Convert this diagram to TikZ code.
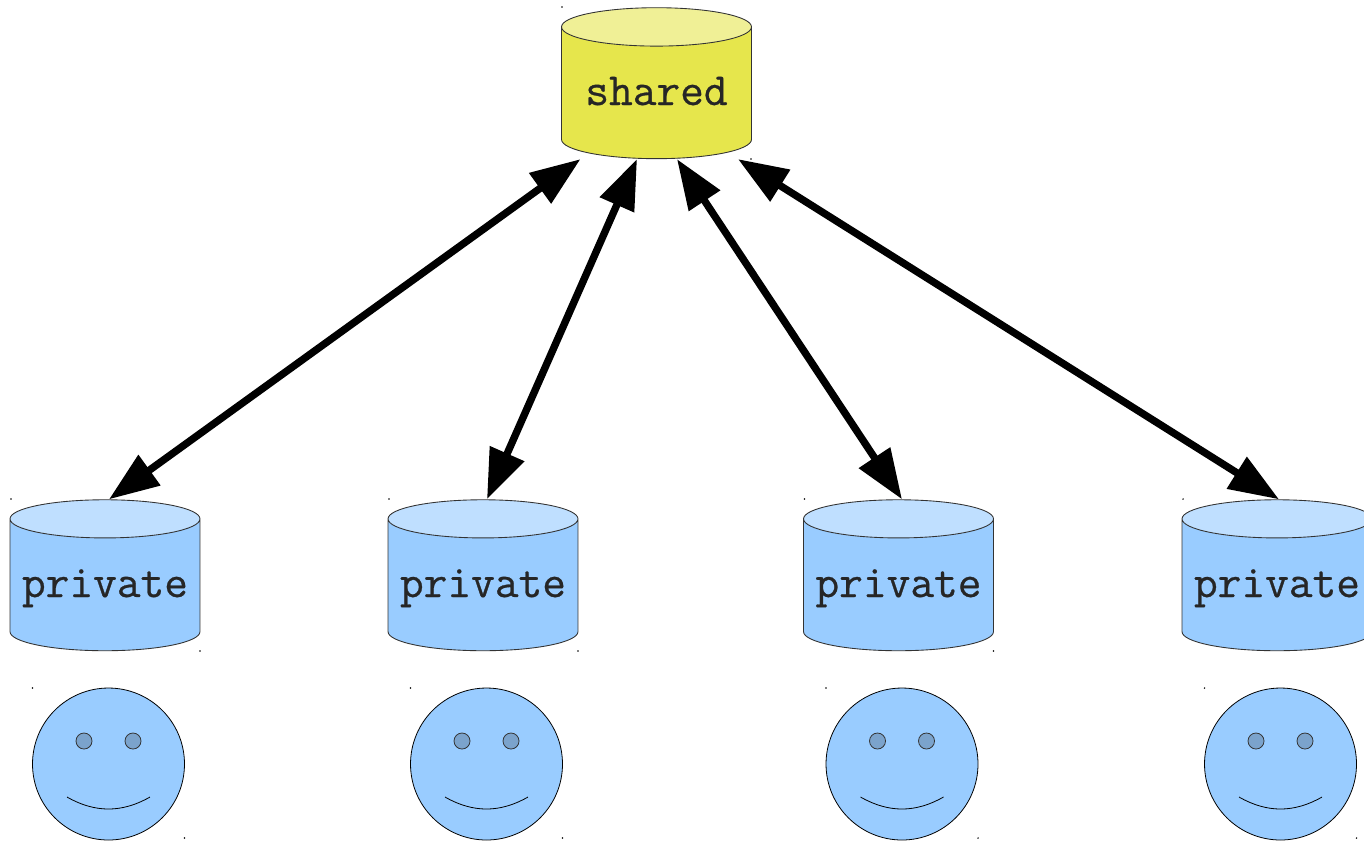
\documentclass[tikz,border=0pt]{standalone}
\usepackage{fontspec}
\newfontfamily\storefont[FakeBold=0.6]{Latin Modern Mono}
\usetikzlibrary{shapes.geometric,arrows.meta}
\definecolor{sharedbody}{HTML}{E6E64C}
\definecolor{sharedtop}{HTML}{F0F096}
\definecolor{privbody}{HTML}{99CCFF}
\definecolor{privtop}{HTML}{BFDFFF}
\definecolor{eyeblue}{HTML}{7BA3CC}
\tikzset{
  store/.style={cylinder, shape border rotate=90, draw=black!80, line width=.5pt,
    cylinder uses custom fill, minimum width=3.8cm, minimum height=3.02cm, inner sep=0pt,
    text height=.56cm, text depth=.08cm,
    font=\storefont\fontsize{26.2}{28}\selectfont, text=black!85},
  sharedstore/.style={store, aspect=0.27, cylinder body fill=sharedbody, cylinder end fill=sharedtop},
  privstore/.style={store, aspect=0.23, cylinder body fill=privbody, cylinder end fill=privtop},
  face/.style={circle, draw=black, line width=.45pt, fill=privbody, minimum size=3.04cm, inner sep=0pt},
  eye/.style={circle, draw=black!80, line width=.45pt, fill=eyeblue, minimum size=.32cm, inner sep=0pt},
  link/.style={line width=4.2pt, {Triangle[length=1.0cm,width=.72cm]}-{Triangle[length=1.0cm,width=.72cm]}},
  speck/.style={fill=black, inner sep=0pt, minimum size=.9pt, circle}
}
\begin{document}
\begin{tikzpicture}[x=.02cm, y=-.02cm]
  \useasboundingbox (0,0) rectangle (1364,840);

  % shared
  \node[sharedstore] (shared) at (656.5,93) {shared};
  \node[speck] (sharedA) at (562,7) {};
  \node[speck] (sharedB) at (751,159) {};

  % private + faces
  \foreach \i/\x in {1/105,2/483,3/898.5,4/1277} {
    \node[privstore] (priv\i) at (\x,585) {private};
    \node[face] (face\i) at (\x+3.5,764) {};
    \node[eye] (eyeL\i) at (\x-21,741) {};
    \node[eye] (eyeR\i) at (\x+28,741) {};
    \coordinate (smileL\i) at (\x-38,797);
    \coordinate (smileR\i) at (\x+45,797);
    \draw[line width=.45pt] (smileL\i) .. controls (\x-10,813) and (\x+17,813) .. (smileR\i);
    \node[speck] (privA\i) at (\x-94,499) {};
    \node[speck] (privB\i) at (\x+95,651) {};
    \node[speck] (faceA\i) at (\x-72.5,688) {};
    \node[speck] (faceB\i) at (\x+79.5,838) {};
  }

  % arrows
  \foreach \i/\a/\b in {1/-1.52/.08,2/-.39/.08,3/.41/.07,4/1.63/.04}
    \draw[link] ([xshift=\a cm]shared.south) -- ([xshift=\b cm]priv\i.north);
\end{tikzpicture}
\end{document}
